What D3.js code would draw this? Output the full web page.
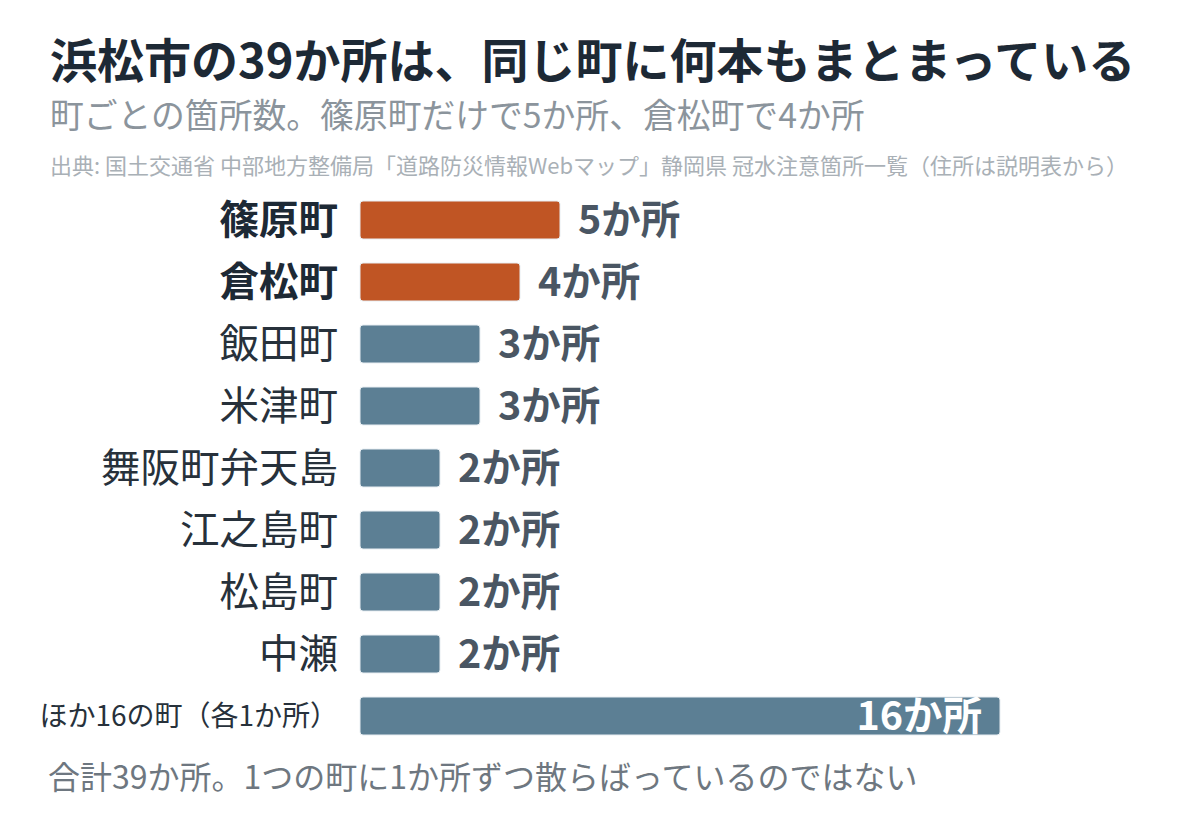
<!DOCTYPE html>
<html>
<head>
<meta charset="utf-8">
<script src="https://cdn.jsdelivr.net/npm/d3@7"></script>
<style>
  body { margin: 0; background: #fff; }
  svg { display: block; font-family: "Noto Sans CJK JP", "Noto Sans", sans-serif; }
</style>
</head>
<body>
<script>
// data
var towns = ["篠原町", "倉松町", "飯田町", "米津町", "舞阪町弁天島", "江之島町", "松島町", "中瀬", "ほか16の町（各1か所）"]
var counts = [5, 4, 3, 3, 2, 2, 2, 2, 16]
var highlight = ["篠原町", "倉松町"]
var unit = "か所"

var title = "浜松市の39か所は、同じ町に何本もまとまっている"
var subtitle = "町ごとの箇所数。篠原町だけで5か所、倉松町で4か所"
var source = "出典: 国土交通省 中部地方整備局「道路防災情報Webマップ」静岡県 冠水注意箇所一覧（住所は説明表から）"
var footer = "合計39か所。1つの町に1か所ずつ散らばっているのではない"

var width = 1200
var height = 824

var svg = d3.select("body")
  .append("svg")
  .attr("width", width)
  .attr("height", height)

var rows = towns.map(function(t, i) { return { town: t, n: counts[i], last: i === towns.length - 1 } })

var x = d3.scaleLinear().domain([0, 16]).range([360, 1000])
var y = d3.scaleBand().domain(towns).range([201, 735]).paddingInner(24 / 62).paddingOuter(0)

// header
svg.append("text")
  .attr("x", 50).attr("y", 78)
  .attr("font-size", 47).attr("font-weight", 700)
  .attr("fill", "#1d2935")
  .text(title)

svg.append("text")
  .attr("x", 50).attr("y", 128)
  .attr("font-size", 33.8)
  .attr("fill", "#8b949c")
  .text(subtitle)

svg.append("text")
  .attr("x", 50).attr("y", 174)
  .attr("font-size", 22)
  .attr("fill", "#a9b0b6")
  .text(source)

// bars
var row = svg.selectAll(".row")
  .data(rows)
  .enter()
  .append("g")
  .attr("class", "row")

row.append("rect")
  .attr("x", x(0))
  .attr("y", function(d) { return y(d.town) })
  .attr("width", function(d) { return x(d.n) - x(0) })
  .attr("height", y.bandwidth())
  .attr("rx", 3)
  .attr("fill", function(d) { return highlight.indexOf(d.town) >= 0 ? "#c05524" : "#5c7f94" })
  .attr("stroke", "#e8eef2")
  .attr("stroke-width", 1)

row.append("text")
  .attr("x", 338)
  .attr("y", function(d) { return y(d.town) + y.bandwidth() / 2 })
  .attr("dy", "0.36em")
  .attr("text-anchor", "end")
  .attr("font-size", function(d) { return d.last ? 28 : 39.5 })
  .attr("font-weight", function(d) { return highlight.indexOf(d.town) >= 0 ? 700 : 400 })
  .attr("fill", function(d) { return highlight.indexOf(d.town) >= 0 ? "#1d2935" : "#27313b" })
  .text(function(d) { return d.town })

// value labels, outside the bar except the long last one
row.append("text")
  .attr("x", function(d) { return d.last ? x(d.n) - 18 : x(d.n) + 18 })
  .attr("y", function(d) { return y(d.town) + y.bandwidth() / 2 })
  .attr("dy", "0.36em")
  .attr("text-anchor", function(d) { return d.last ? "end" : "start" })
  .attr("font-size", 39.5)
  .attr("font-weight", 700)
  .attr("fill", function(d) { return d.last ? "#ffffff" : "#4a5663" })
  .text(function(d) { return d.n + unit })

svg.append("text")
  .attr("x", 48).attr("y", 789)
  .attr("font-size", 32)
  .attr("fill", "#6e7780")
  .text(footer)
</script>
</body>
</html>
